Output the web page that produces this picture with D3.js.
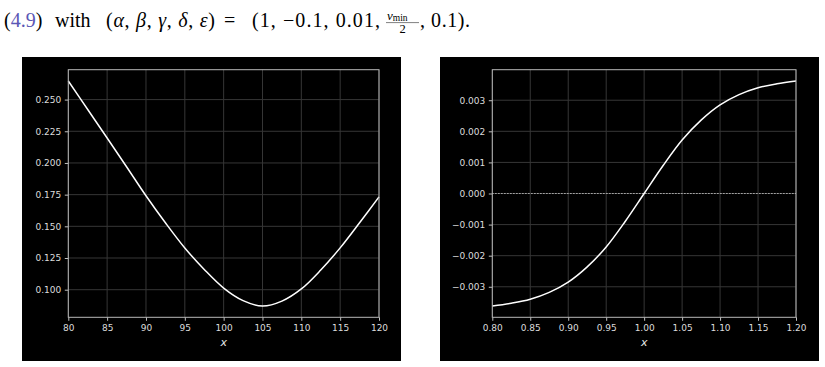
<!DOCTYPE html>
<html>
<head>
<meta charset="utf-8">
<script src="https://cdn.jsdelivr.net/npm/d3@7"></script>
<style>
  body { margin: 0; background: #fff; }
  svg { display: block; }
</style>
</head>
<body>
<script>
/* global d3 */

// left panel: curve
const leftX = [80, 82.5, 85, 87.5, 90, 92.5, 95, 97.5, 100, 102.5, 105, 107.5, 110, 112.5, 115, 117.5, 120];
const leftY = [0.2647, 0.2422, 0.2197, 0.1970, 0.1741, 0.1528, 0.1329, 0.1160, 0.1013, 0.0914, 0.0871, 0.0910, 0.1006, 0.1155, 0.1330, 0.1528, 0.1732];

// right panel
const rightX = [0.8, 0.825, 0.85, 0.875, 0.9, 0.925, 0.95, 0.975, 1.0, 1.025, 1.05, 1.075, 1.1, 1.125, 1.15, 1.175, 1.2];
const rightY = [-0.00362, -0.00353, -0.00340, -0.00318, -0.00285, -0.00236, -0.00172, -0.00090, 0, 0.00090, 0.00172, 0.00236, 0.00285, 0.00318, 0.00340, 0.00353, 0.00362];

const leftXTicks = [80, 85, 90, 95, 100, 105, 110, 115, 120];
const leftYTicks = [0.100, 0.125, 0.150, 0.175, 0.200, 0.225, 0.250];
const rightXTicks = [0.80, 0.85, 0.90, 0.95, 1.00, 1.05, 1.10, 1.15, 1.20];
const rightYTicks = [-0.003, -0.002, -0.001, 0.000, 0.001, 0.002, 0.003];

const width = 825;
const height = 367;

const svg = d3.select('body').append('svg')
  .attr('width', width)
  .attr('height', height);

// caption line above the figure
const cap = svg.append('g')
  .style('font-family', "'Liberation Serif', serif")
  .style('font-size', '20px')
  .attr('fill', '#000');

const t1 = cap.append('text')
  .attr('x', 4).attr('y', 26.7);
t1.append('tspan').text('(');
t1.append('tspan').attr('fill', '#5b57b5').text('4.9');
t1.append('tspan').text(')');

cap.append('text')
  .attr('x', 55).attr('y', 26.7)
  .text('with');

const t3 = cap.append('text')
  .attr('x', 106).attr('y', 26.7)
  .attr('textLength', 109).attr('lengthAdjust', 'spacing');
t3.append('tspan').text('(');
['α', 'β', 'γ', 'δ', 'ε'].forEach((s, i) => {
  t3.append('tspan').style('font-style', 'italic').text(s);
  t3.append('tspan').text(i < 4 ? ', ' : ')');
});

cap.append('text')
  .attr('x', 224).attr('y', 26.7)
  .text('=');

cap.append('text')
  .attr('x', 252).attr('y', 26.7)
  .attr('textLength', 128).attr('lengthAdjust', 'spacing')
  .text('(1, −0.1, 0.01,');

const num = cap.append('text')
  .attr('x', 387).attr('y', 19.5)
  .style('font-size', '13px');
num.append('tspan').style('font-style', 'italic').text('v');
num.append('tspan').attr('dy', 1.5).style('font-size', '9.5px').text('min');

cap.append('line')
  .attr('x1', 386).attr('x2', 419)
  .attr('y1', 22.6).attr('y2', 22.6)
  .attr('stroke', '#000')
  .attr('stroke-width', 0.5);

cap.append('text')
  .attr('x', 402.5).attr('y', 32.5)
  .attr('text-anchor', 'middle')
  .style('font-size', '12.5px')
  .text('2');

cap.append('text')
  .attr('x', 420).attr('y', 26.7)
  .attr('textLength', 50).attr('lengthAdjust', 'spacing')
  .text(', 0.1).');

function drawPanel(p) {
  svg.append('rect')
    .attr('x', p.bg[0]).attr('y', 57)
    .attr('width', p.bg[1] - p.bg[0]).attr('height', 304)
    .attr('fill', '#000');

  const x = d3.scaleLinear()
    .domain(d3.extent(p.xs))
    .range([p.left, p.right]);

  const [lo, hi] = d3.extent(p.ys);
  const pad = (hi - lo) * 0.05;
  const y = d3.scaleLinear()
    .domain([lo - pad, hi + pad])
    .range([p.bottom, p.top]);

  const g = svg.append('g');

  g.selectAll('.vgrid')
    .data(p.xTicks)
    .enter().append('line')
      .attr('x1', d => x(d)).attr('x2', d => x(d))
      .attr('y1', p.top).attr('y2', p.bottom)
      .attr('stroke', '#363636');

  g.selectAll('.hgrid')
    .data(p.yTicks)
    .enter().append('line')
      .attr('x1', p.left).attr('x2', p.right)
      .attr('y1', d => y(d)).attr('y2', d => y(d))
      .attr('stroke', '#363636');

  if (p.zero) {
    g.append('line')
      .attr('x1', x(p.xs[0])).attr('x2', x(p.xs[p.xs.length - 1]))
      .attr('y1', y(0)).attr('y2', y(0))
      .attr('stroke', '#d0d0d0')
      .attr('stroke-width', 1)
      .attr('stroke-dasharray', '1.2,1.8');
  }

  const line = d3.line()
    .x((d, i) => x(p.xs[i]))
    .y(d => y(d))
    .curve(d3.curveCatmullRom);

  g.append('path')
    .datum(p.ys)
    .attr('d', line)
    .attr('fill', 'none')
    .attr('stroke', '#fff')
    .attr('stroke-width', 1.5);

  const xAxis = g.append('g')
    .attr('transform', `translate(0,${p.bottom})`)
    .call(d3.axisBottom(x).tickValues(p.xTicks).tickFormat(p.xFmt)
      .tickSize(3.5).tickPadding(3.5).tickSizeOuter(0));

  const yAxis = g.append('g')
    .attr('transform', `translate(${p.left},0)`)
    .call(d3.axisLeft(y).tickValues(p.yTicks).tickFormat(p.yFmt)
      .tickSize(3.5).tickPadding(3.5).tickSizeOuter(0));

  [xAxis, yAxis].forEach(a => {
    a.select('.domain').remove();
    a.selectAll('line').attr('stroke', '#c0c0c0');
    a.selectAll('text')
      .attr('fill', '#dcdcdc')
      .style('font-family', "'DejaVu Sans', sans-serif")
      .style('font-size', '9px');
  });

  g.append('rect')
    .attr('x', p.left).attr('y', p.top)
    .attr('width', p.right - p.left).attr('height', p.bottom - p.top)
    .attr('fill', 'none')
    .attr('stroke', '#b8b8b8')
    .attr('stroke-width', 1);

  g.append('text')
    .attr('x', (p.left + p.right) / 2)
    .attr('y', 346)
    .attr('text-anchor', 'middle')
    .attr('fill', '#e6e6e6')
    .style('font-family', "'DejaVu Sans', sans-serif")
    .style('font-style', 'italic')
    .style('font-size', '11px')
    .text('x');
}

drawPanel({
  bg: [22, 401],
  left: 68.3, right: 379, top: 69.7, bottom: 317.3,
  xs: leftX, ys: leftY,
  xTicks: leftXTicks, yTicks: leftYTicks,
  xFmt: d3.format('d'), yFmt: d3.format('.3f'),
  zero: false,
});

drawPanel({
  bg: [440, 819],
  left: 492.3, right: 796, top: 69.7, bottom: 317.3,
  xs: rightX, ys: rightY,
  xTicks: rightXTicks, yTicks: rightYTicks,
  xFmt: d3.format('.2f'), yFmt: d3.format('.3f'),
  zero: true,
});
</script>
</body>
</html>
